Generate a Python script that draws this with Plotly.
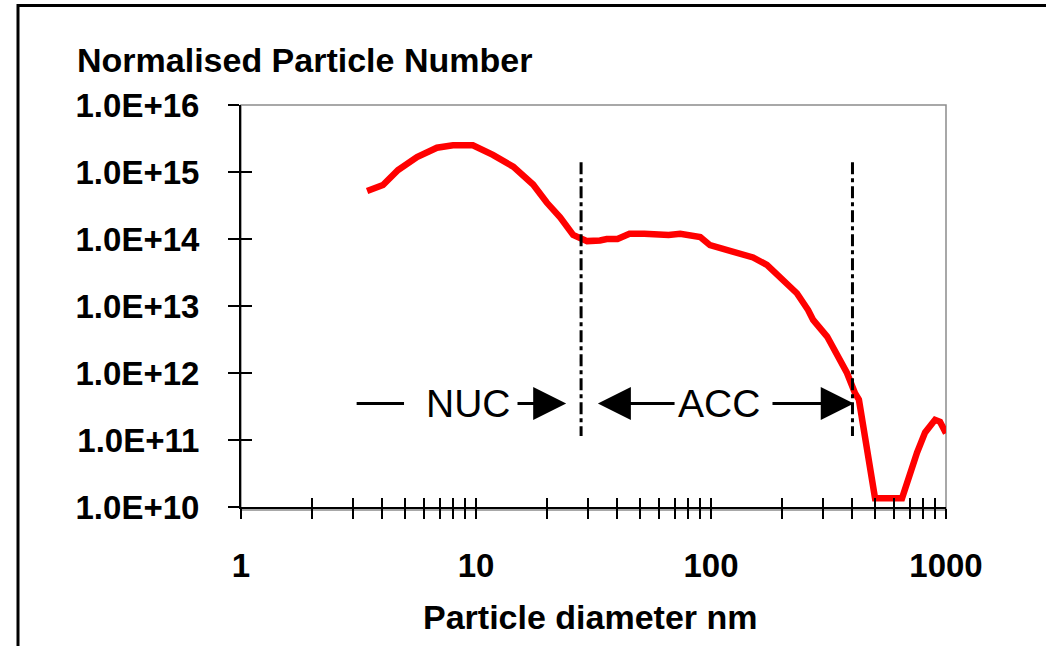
import math
import plotly.graph_objects as go

# ---------------- data ----------------
diameter_nm = [3.44, 4.02, 4.66, 5.61, 6.82, 7.98, 9.7, 11.8, 14.4, 17.5, 20, 22.8,
               25.9, 29.7, 33.7, 36, 40, 45, 52, 59, 66, 74, 90, 99, 124, 151, 173,
               202, 232, 259, 272, 312, 379, 410, 426, 499, 650, 753, 815, 898, 943, 1000]
particle_number = [5.2e14, 6.4e14, 1.07e15, 1.67e15, 2.3e15, 2.5e15, 2.5e15, 1.8e15,
                   1.2e15, 6.5e14, 3.5e14, 2.1e14, 1.15e14, 9.3e13, 9.5e13, 1.0e14,
                   1.0e14, 1.2e14, 1.2e14, 1.17e14, 1.15e14, 1.2e14, 1.07e14, 8.1e13,
                   6.5e13, 5.3e13, 4.1e13, 2.5e13, 1.55e13, 8.7e12, 6.2e12, 3.5e12,
                   1.0e12, 5e11, 4e11, 1.35e10, 1.35e10, 6.5e10, 1.3e11, 2.0e11,
                   1.87e11, 1.26e11]

mode_boundaries_nm = [28, 400]
boundary_span = [1.4e15, 1.15e11]

y_tick_values = [1e10, 1e11, 1e12, 1e13, 1e14, 1e15, 1e16]
y_tick_labels = ["1.0E+10", "1.0E+11", "1.0E+12", "1.0E+13", "1.0E+14", "1.0E+15", "1.0E+16"]

x_tick_values = [m * 10 ** e for e in range(0, 3) for m in range(1, 10)] + [1000]
x_tick_labels = [("%d" % v) if v in (1, 10, 100, 1000) else "" for v in x_tick_values]

FONT = "Liberation Sans, Arial, sans-serif"

fig = go.Figure()

fig.add_trace(go.Scatter(
    x=diameter_nm, y=particle_number, mode="lines",
    line=dict(color="#ff0000", width=6.5), showlegend=False, hoverinfo="skip"))

for b in mode_boundaries_nm:
    fig.add_trace(go.Scatter(
        x=[b, b], y=boundary_span, mode="lines",
        line=dict(color="black", width=3, dash="12px,4px,4px,4px"),
        showlegend=False, hoverinfo="skip"))

# helper overlay axes for inward ticks (ticks crossing the axis)
fig.add_trace(go.Scatter(x=[1], y=[1e10], xaxis="x2", yaxis="y2", mode="markers",
                         marker=dict(opacity=0), showlegend=False, hoverinfo="skip"))

L, R, T, B = 241, 946, 105, 507
W, H = 1046, 646
pw, ph = R - L, B - T


def px(xp):
    return (xp - L) / pw


def py(yp):
    return (B - yp) / ph


fig.update_layout(
    width=W, height=H,
    margin=dict(l=L, r=W - R, t=T, b=H - B, pad=0),
    paper_bgcolor="white", plot_bgcolor="white",
    font=dict(family=FONT, color="black"),
    xaxis=dict(type="log", range=[0, 3], tickvals=x_tick_values, ticktext=x_tick_labels,
               ticks="outside", ticklen=10, tickwidth=2, tickcolor="black",
               showline=True, linecolor="black", linewidth=2, showgrid=False, zeroline=False,
               tickfont=dict(size=33, weight="bold", family=FONT), ticklabelstandoff=18),
    yaxis=dict(type="log", range=[10, 16], tickvals=y_tick_values, ticktext=y_tick_labels,
               ticks="outside", ticklen=11, tickwidth=2, tickcolor="black",
               showline=True, linecolor="black", linewidth=2, showgrid=False, zeroline=False,
               tickfont=dict(size=33, weight="bold", family=FONT), ticklabelstandoff=22),
    xaxis2=dict(type="log", range=[0, 3], overlaying="x", anchor="y2", side="bottom",
                tickvals=x_tick_values, ticktext=[""] * len(x_tick_values),
                ticks="inside", ticklen=9, tickwidth=2, tickcolor="black",
                showline=False, showgrid=False, zeroline=False),
    yaxis2=dict(type="log", range=[10, 16], overlaying="y", anchor="x2", side="left",
                tickvals=y_tick_values, ticktext=[""] * len(y_tick_values),
                ticks="inside", ticklen=11, tickwidth=2, tickcolor="black",
                showline=False, showgrid=False, zeroline=False),
    showlegend=False,
)

# plot frame (grey) and outer chart border (black)
fig.add_shape(type="rect", xref="paper", yref="paper", x0=0, x1=1, y0=-3 / ph, y1=1,
              line=dict(color="#8c8c8c", width=1.5), layer="below")
fig.add_shape(type="rect", xref="paper", yref="paper",
              x0=px(18), x1=px(W + 20), y0=py(H + 20), y1=py(5.5),
              line=dict(color="black", width=3))

# titles
fig.add_annotation(text="Normalised Particle Number", xref="paper", yref="paper",
                   x=px(75), y=py(60), xanchor="left", yanchor="middle",
                   showarrow=False, font=dict(size=34, weight="bold", family=FONT))
fig.add_annotation(text="Particle diameter nm", xref="paper", yref="paper",
                   x=px(590), y=py(617), xanchor="center", yanchor="middle",
                   showarrow=False, font=dict(size=34, weight="bold", family=FONT))

# mode labels and arrows
label_y = math.log10(3.5e11)
nuc_text_x, acc_text_x = 9.25, 108
lead_dash = (3.06, 4.94)
nuc_arrow = (14.8, 24.2)      # tail, head
acc_left_arrow = (71, 33.0)   # tail, head
acc_right_arrow = (180, 405)  # tail, head

for txt, xv in (("NUC", nuc_text_x), ("ACC", acc_text_x)):
    fig.add_annotation(text=txt, x=math.log10(xv), y=label_y, xref="x", yref="y",
                       showarrow=False, font=dict(size=39, family=FONT),
                       xanchor="center", yanchor="middle")

fig.add_annotation(text="", x=math.log10(lead_dash[1]), y=label_y, xref="x", yref="y",
                   ax=math.log10(lead_dash[0]), ay=label_y, axref="x", ayref="y",
                   showarrow=True, arrowhead=0, arrowwidth=3, arrowcolor="black", standoff=0)
for tail, head in (nuc_arrow, acc_left_arrow, acc_right_arrow):
    fig.add_annotation(text="", x=math.log10(head), y=label_y, xref="x", yref="y",
                       ax=math.log10(tail), ay=label_y, axref="x", ayref="y",
                       showarrow=True, arrowhead=2, arrowsize=2.2, arrowwidth=3,
                       arrowcolor="black", standoff=0)

fig.write_html("out.html", config={"displayModeBar": False},
               post_script="document.body.style.margin='0';document.body.style.overflow='hidden';")
